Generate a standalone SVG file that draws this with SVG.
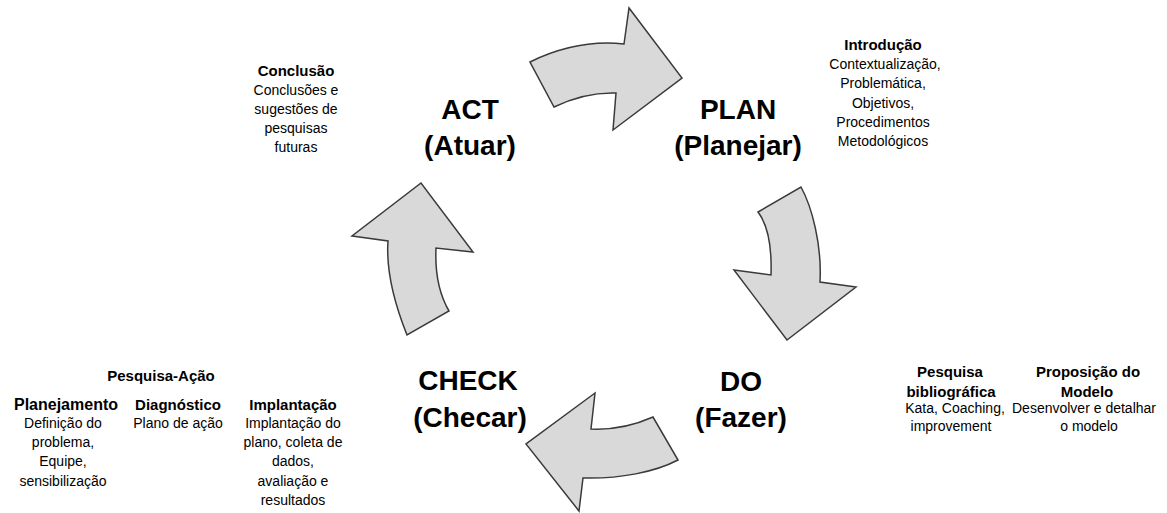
<svg xmlns="http://www.w3.org/2000/svg" width="1167" height="513" viewBox="0 0 1167 513">
<style>
.arrow{fill:#d9d9d9;stroke:#3a3a3a;stroke-width:1.5;stroke-linejoin:miter}
.big{font-family:"Liberation Sans",Arial,sans-serif;font-weight:bold;font-size:28px;fill:#000;text-anchor:middle}
.h{font-family:"Liberation Sans",Arial,sans-serif;font-weight:bold;font-size:15px;fill:#000;text-anchor:middle}
.t{font-family:"Liberation Sans",Arial,sans-serif;font-size:14px;fill:#000;text-anchor:middle}
</style>
<rect width="1167" height="513" fill="#fff"/>
<g id="connectors">
<path class="arrow" d="M530,62 Q577,39 624,44 L629,8 L682,78 L613,130 L616,93 Q585,92 554,107 Z"/>
<path class="arrow" d="M801,187 C812,207 822,245 820,282 L856,287 L787,340 L734,270 L771,275 C772,245 768,225 758,212 Z"/>
<path class="arrow" d="M653,417 C635,425 612,430 591,429 L595,393 L526,444 L579,511 L583,478 C620,479 655,472 678,460 Z"/>
<path class="arrow" d="M407,335 C395,305 386,270 388,241 L352,236 L421,183 L473,252 L436,248 C435,270 438,292 449,311 Z"/>
</g>
<g id="act">
<text class="big" x="470" y="119">ACT</text>
<text class="big" x="470" y="155">(Atuar)</text>
</g>
<g id="plan">
<text class="big" x="738" y="119">PLAN</text>
<text class="big" x="738" y="155">(Planejar)</text>
</g>
<g id="check">
<text class="big" x="468" y="390">CHECK</text>
<text class="big" x="470" y="427">(Checar)</text>
</g>
<g id="do">
<text class="big" x="741" y="391">DO</text>
<text class="big" x="741" y="427">(Fazer)</text>
</g>
<g id="conclusao">
<text class="h" x="296" y="76">Conclusão</text>
<text class="t" x="296" y="95">Conclusões e</text>
<text class="t" x="296" y="114">sugestões de</text>
<text class="t" x="296" y="133">pesquisas</text>
<text class="t" x="296" y="152">futuras</text>
</g>
<g id="introducao">
<text class="h" x="883" y="50">Introdução</text>
<text class="t" x="885" y="69">Contextualização,</text>
<text class="t" x="883" y="88">Problemática,</text>
<text class="t" x="883" y="108">Objetivos,</text>
<text class="t" x="883" y="127">Procedimentos</text>
<text class="t" x="883" y="146">Metodológicos</text>
</g>
<g id="pesquisa-acao">
<text class="h" x="161" y="381">Pesquisa-Ação</text>
</g>
<g id="planejamento">
<text class="h" x="66" y="410" style="font-size:16px">Planejamento</text>
<text class="t" x="63" y="428">Definição do</text>
<text class="t" x="63" y="447">problema,</text>
<text class="t" x="63" y="466">Equipe,</text>
<text class="t" x="63" y="486">sensibilização</text>
</g>
<g id="diagnostico">
<text class="h" x="178" y="410">Diagnóstico</text>
<text class="t" x="178" y="428">Plano de ação</text>
</g>
<g id="implantacao">
<text class="h" x="293" y="410">Implantação</text>
<text class="t" x="293" y="428">Implantação do</text>
<text class="t" x="293" y="447">plano, coleta de</text>
<text class="t" x="293" y="466">dados,</text>
<text class="t" x="293" y="486">avaliação e</text>
<text class="t" x="293" y="505">resultados</text>
</g>
<g id="pesquisa-bibliografica">
<text class="h" x="950" y="377">Pesquisa</text>
<text class="h" x="951" y="397">bibliográfica</text>
<text class="t" x="955" y="413">Kata, Coaching,</text>
<text class="t" x="951" y="431">improvement</text>
</g>
<g id="proposicao">
<text class="h" x="1088" y="377">Proposição do</text>
<text class="h" x="1087" y="397">Modelo</text>
<text class="t" x="1084" y="413">Desenvolver e detalhar</text>
<text class="t" x="1089" y="431">o modelo</text>
</g>
</svg>
